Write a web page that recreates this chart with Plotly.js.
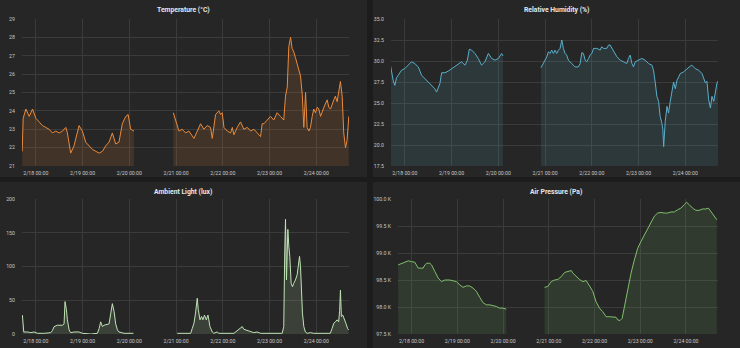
<!DOCTYPE html>
<html><head><meta charset="utf-8">
<script src="https://cdn.plot.ly/plotly-3.0.1.min.js"></script>
<style>html,body{margin:0;padding:0;background:#1c1c1c;overflow:hidden}#chart{width:740px;height:348px}</style>
</head><body><div id="chart"></div>
<script>
// Time is given in hours relative to 2/18 00:00; null value = gap in the data.
const BASE_DATE = '2018-02-18';

const tempHours = [
  -7.0, -6.5, -5.1, -3.4, -1.7, 0, 1.7, 3.4, 5.1, 6.8,
  8.5, 10.3, 12, 13.7, 15.4, 16.2, 17.9, 19.6, 22.2, 23.9,
  25.6, 27.4, 29.1, 30.8, 32.5, 34.2, 35.9, 37.6, 39.3, 41,
  42.7, 44.4, 46.2, 47.4, 48.7, 50.4, 60, 70.6, 71.8, 73.5,
  75.2, 76.9, 78.6, 80.4, 81.2, 82.9, 84.6, 86.3, 88, 89.7,
  90.6, 92.3, 94, 94.9, 95.7, 96.6, 98.3, 100, 100.9, 101.7,
  103.4, 105.1, 106.8, 108.6, 110.3, 112, 113.7, 115.4, 116.2, 117.1,
  118.8, 120.5, 122.2, 123.9, 125.6, 127.3, 128.2, 129.1, 129.9, 130.8,
  131.6, 132.5, 133.3, 134.2, 135, 135.9, 136.8, 137.6, 138.5, 139.3,
  140.2, 141, 141.9, 142.7, 143.6, 144.5, 145.3, 146.2, 147.9, 149.6,
  150.4, 151.3, 153, 153.8, 154.7, 155.5, 156.4, 157.3, 158.1, 159,
  159.8, 160.7
];
const tempValues = [
  21.8, 23.6, 24.1, 23.7, 24.1, 23.6, 23.4, 23.2, 23.1, 23.0,
  22.8, 22.9, 22.8, 22.9, 23.1, 22.8, 21.7, 22.1, 23.2, 22.9,
  22.3, 22.1, 21.9, 21.8, 21.7, 21.8, 22.1, 22.3, 22.8, 22.2,
  22.3, 23.3, 23.7, 23.8, 23.0, 22.9, null, 23.9, 23.5, 22.9,
  23.0, 22.8, 22.9, 22.6, 22.5, 22.9, 23.3, 23.0, 23.2, 23.1,
  22.5, 23.8, 24.0, 23.8, 23.9, 23.1, 22.9, 22.8, 23.1, 22.7,
  23.1, 23.4, 23.0, 23.1, 22.9, 23.0, 22.8, 22.6, 23.3, 23.3,
  23.5, 23.7, 23.5, 23.9, 23.7, 23.5, 24.8, 25.3, 27.5, 28.0,
  27.4, 27.2, 26.9, 26.6, 26.2, 25.9, 24.9, 23.1, 25.0, 23.1,
  22.9, 23.1, 23.7, 24.1, 23.9, 24.2, 24.1, 23.7, 24.2, 24.6,
  24.2, 24.1, 24.6, 24.8, 24.5, 25.0, 25.6, 24.8, 22.8, 22.0,
  22.4, 23.7
];

const humHours = [
  -7.3, -6.0, -5.1, -4.3, -3.4, -1.7, 0, 1.7, 3.4, 5.1,
  6.9, 8.6, 10.3, 12, 13.7, 15.4, 16.3, 18, 18.9, 20.6,
  22.3, 24, 25.7, 27.4, 29.1, 30.9, 32.1, 33.1, 34.3, 36,
  37.7, 39.4, 41.1, 42.9, 44.6, 46.3, 48, 49.7, 50.4, 60,
  69.9, 71.1, 72.9, 73.7, 74.6, 75.4, 76.3, 77.1, 78, 78.9,
  79.7, 80.6, 81.4, 82.3, 83.1, 84, 85.7, 87.4, 89.1, 90,
  90.9, 91.7, 92.6, 93.4, 94.3, 95.1, 96, 96.9, 98.6, 100.3,
  101.1, 102, 103.7, 104.6, 105.4, 106.3, 107.1, 108, 108.9, 110.6,
  112.3, 114, 114.8, 115.7, 116.6, 117.4, 118.3, 120, 121.7, 123.4,
  125.1, 126.9, 127.7, 128.6, 129.4, 130.3, 131.1, 132, 132.5, 132.9,
  133.7, 134.6, 135.4, 136.3, 137.1, 138, 138.9, 139.7, 140.6, 141.4,
  143.1, 144.9, 146.6, 147.4, 149.1, 150.9, 152.6, 154.3, 155.1, 156,
  156.9, 157.7, 158.6, 159.4, 160.3, 161.1
];
const humValues = [
  29.4, 27.7, 27.1, 28.0, 28.3, 28.9, 29.1, 29.5, 29.9, 29.7,
  29.3, 28.3, 27.9, 27.5, 27.0, 26.7, 26.3, 27.3, 28.6, 28.6,
  28.8, 29.1, 29.4, 29.7, 29.9, 29.5, 30.1, 31.4, 31.3, 30.9,
  30.3, 29.5, 29.9, 30.9, 30.3, 30.1, 30.3, 30.9, 30.6, null,
  29.2, 29.7, 30.5, 31.1, 30.9, 31.3, 30.9, 31.3, 30.9, 31.3,
  31.5, 32.5, 31.5, 30.9, 30.7, 30.1, 29.7, 29.3, 29.3, 29.7,
  31.0, 30.9, 30.1, 29.9, 30.3, 30.7, 30.9, 31.5, 31.5, 31.3,
  31.7, 31.5, 31.5, 31.9, 31.9, 31.5, 31.3, 30.9, 30.5, 30.1,
  29.9, 29.7, 30.3, 30.7, 29.7, 29.3, 29.9, 30.1, 30.3, 30.1,
  29.7, 29.5, 28.9, 27.4, 25.8, 25.2, 23.4, 22.6, 21.8, 19.8,
  22.8, 24.6, 23.8, 25.2, 26.6, 27.5, 26.7, 27.7, 28.1, 28.5,
  28.7, 29.1, 29.4, 29.5, 29.1, 28.9, 28.5, 27.4, 27.6, 25.4,
  24.4, 25.8, 25.2, 26.2, 27.4, 27.7
];

const luxHours = [
  -6.9, -6.5, -6.2, -4.3, -2.6, -0.9, 0.9, 4.3, 7.7, 8.5,
  9.4, 11.1, 13.7, 14.5, 15.0, 15.7, 16.2, 17.1, 17.9, 19.7,
  22.2, 23.9, 28.2, 31.6, 32.5, 33.3, 34.2, 35.0, 37.6, 38.5,
  39.3, 40.2, 41.0, 41.9, 42.7, 45.3, 50.1, 60, 72.6, 79.5,
  80.3, 81.2, 82.0, 82.9, 83.4, 84.3, 85.1, 85.8, 86.6, 87.5,
  88.4, 89.4, 90.6, 91.4, 93.1, 94.0, 101.7, 102.5, 104.2, 105.1,
  106.0, 106.8, 108.5, 111.9, 113.6, 115.4, 126.5, 127.3, 127.8, 128.2,
  128.7, 129.4, 129.9, 130.4, 131.1, 131.8, 132.4, 133.3, 134.2, 135.0,
  135.4, 135.9, 136.4, 136.9, 137.6, 138.4, 139.3, 141.0, 142.7, 151.2,
  152.1, 153.0, 153.8, 154.7, 155.5, 156.0, 156.4, 156.9, 157.6, 158.4,
  159.3, 160.1, 160.6
];
const luxValues = [
  28, 10, 3, 3, 2, 3, 1, 1, 2, 5,
  11, 13, 13, 15, 48, 36, 21, 6, 2, 3,
  3, 1, 0, 1, 8, 18, 11, 13, 15, 31,
  45, 33, 15, 6, 3, 1, 1, null, 1, 1,
  8, 16, 31, 53, 36, 21, 26, 21, 28, 21,
  28, 11, 3, 1, 3, 1, 1, 3, 6, 8,
  11, 7, 5, 2, 3, 1, 1, 11, 120, 170,
  80, 155, 130, 115, 75, 70, 75, 80, 88, 110,
  115, 100, 65, 31, 11, 3, 1, 2, 1, 1,
  8, 16, 18, 21, 18, 35, 65, 26, 28, 20,
  15, 8, 6
];

const presHours = [
  -7.0, -5.2, -3.5, -1.7, 0, 1.7, 3.5, 4.4, 6.1, 7.0,
  7.9, 9.6, 10.5, 12.2, 14.0, 15.7, 17.5, 20.1, 21.8, 23.6,
  25.3, 27.0, 28.8, 30.5, 32.3, 34.0, 35.8, 37.5, 39.3, 41.0,
  42.8, 44.5, 46.2, 48.0, 49.7, 60, 69.8, 71.5, 73.3, 75.0,
  76.8, 78.5, 80.3, 82.0, 83.8, 84.6, 86.4, 88.1, 89.9, 91.6,
  93.4, 95.1, 96.8, 98.6, 100.3, 102.1, 103.8, 105.6, 107.3, 108.2,
  109.4, 110.5, 111.7, 113.4, 115.2, 116.9, 118.7, 120.4, 122.2, 123.9,
  125.6, 127.4, 129.1, 130.9, 132.6, 134.4, 136.1, 137.9, 139.6, 141.3,
  143.1, 144.3, 145.7, 147.5, 149.2, 150.9, 152.7, 154.4, 155.8, 157.1,
  158.8, 160.2
];
const presValues = [
  98780, 98810, 98840, 98855, 98840, 98830, 98720, 98720, 98720, 98780,
  98810, 98810, 98780, 98660, 98535, 98470, 98500, 98500, 98490, 98470,
  98410, 98365, 98390, 98390, 98350, 98290, 98180, 98080, 98040, 98040,
  98025, 98010, 97980, 97980, 97960, null, 98365, 98380, 98470, 98500,
  98510, 98560, 98640, 98660, 98675, 98630, 98560, 98510, 98470, 98490,
  98390, 98290, 98100, 97980, 97915, 97820, 97820, 97820, 97810, 97760,
  97750, 97790, 98010, 98320, 98630, 98870, 99090, 99215, 99340, 99460,
  99585, 99680, 99740, 99750, 99740, 99740, 99760, 99760, 99800, 99830,
  99895, 99940, 99895, 99830, 99790, 99790, 99815, 99815, 99830, 99770,
  99690, 99615
];

const panelTitles = ['Temperature (°C)', 'Relative Humidity (%)', 'Ambient Light (lux)', 'Air Pressure (Pa)'];
const presTickVals = [97500, 98000, 98500, 99000, 99500, 100000];
const presTickText = ['97.5 K', '98.0 K', '98.5 K', '99.0 K', '99.5 K', '100.0 K'];
const timeRangeHours = [-7.1, 160.8];

// ---------- rendering ----------
const W = 740, H = 348;
const base = Date.parse(BASE_DATE + 'T00:00:00Z');
const toMs = hrs => hrs.map(h => base + h * 3600000);
const px = v => v / W, py = v => (H - v) / H;

const FONT = 'Roboto, "Open Sans", sans-serif';
const tickFont = {family: FONT, size: 5.2, color: '#c9c9c9'};
const GRID = '#3b3b3b';

function xAxis(x0, x1, anchor) {
  return {
    domain: [px(x0), px(x1)], anchor: anchor, type: 'date',
    range: toMs(timeRangeHours), tick0: base, dtick: 86400000,
    tickformat: '%-m/%d %H:%M', showgrid: true, gridcolor: GRID, gridwidth: 1,
    zeroline: false, showline: false, ticks: 'outside', ticklen: 2,
    tickcolor: 'rgba(0,0,0,0)', tickfont: tickFont, fixedrange: true
  };
}
function yAxis(y0, y1, anchor, extra) {
  return Object.assign({
    domain: [py(y1), py(y0)], anchor: anchor, showgrid: true, gridcolor: GRID,
    gridwidth: 1, zeroline: false, showline: false, ticks: 'outside', ticklen: 5,
    tickcolor: 'rgba(0,0,0,0)', tickfont: tickFont, fixedrange: true
  }, extra);
}

// split a series at null values so each recorded segment gets its own fill
function segments(hours, values) {
  const out = [];
  let cur = {h: [], v: []};
  hours.forEach((h, i) => {
    if (values[i] === null) { if (cur.h.length) out.push(cur); cur = {h: [], v: []}; }
    else { cur.h.push(h); cur.v.push(values[i]); }
  });
  if (cur.h.length) out.push(cur);
  return out;
}
function series(hours, values, color, fill, xa, ya) {
  return segments(hours, values).map(s => ({
    x: toMs(s.h), y: s.v, type: 'scatter', mode: 'lines',
    line: {color: color, width: 1}, fill: 'tozeroy', fillcolor: fill,
    xaxis: xa, yaxis: ya, hoverinfo: 'skip'
  }));
}

const data = [].concat(
  series(tempHours, tempValues, '#EA8A3A', 'rgba(234,138,58,0.14)', 'x', 'y'),
  series(humHours, humValues, '#5AAFCB', 'rgba(90,175,203,0.13)', 'x2', 'y2'),
  series(luxHours, luxValues, '#BFE3B4', 'rgba(191,227,180,0.14)', 'x3', 'y3'),
  series(presHours, presValues, '#7FBF6A', 'rgba(127,191,106,0.13)', 'x4', 'y4')
);

const panels = [[0, 0, 367, 177], [373, 0, 740, 177], [0, 182, 367, 348], [373, 182, 740, 348]];
const shapes = panels.map(p => ({
  type: 'rect', xref: 'paper', yref: 'paper', layer: 'below',
  x0: px(p[0]), x1: px(p[2]), y0: py(p[3]), y1: py(p[1]),
  line: {width: 0}, fillcolor: '#262626'
}));
const annotations = panels.map((p, i) => ({
  xref: 'paper', yref: 'paper', x: px((p[0] + p[2]) / 2), y: py(p[1] + 10.5),
  xanchor: 'center', yanchor: 'middle', showarrow: false, text: panelTitles[i],
  font: {family: FONT, size: 6.8, color: '#e6e6e6', weight: 'bold'}
}));

const layout = {
  width: W, height: H, margin: {l: 0, r: 0, t: 0, b: 0},
  paper_bgcolor: '#1c1c1c', plot_bgcolor: 'rgba(0,0,0,0)', showlegend: false,
  xaxis: xAxis(22, 349, 'y'),
  yaxis: yAxis(19, 166, 'x', {range: [21, 29], dtick: 1, tick0: 21}),
  xaxis2: xAxis(391, 718, 'y2'),
  yaxis2: yAxis(19, 166, 'x2', {range: [17.5, 35], dtick: 2.5, tick0: 17.5, tickformat: '.1f'}),
  xaxis3: xAxis(22, 349, 'y3'),
  yaxis3: yAxis(199, 334, 'x3', {range: [0, 200], dtick: 50, tick0: 0}),
  xaxis4: xAxis(398, 718, 'y4'),
  yaxis4: yAxis(199, 334, 'x4', {range: [97500, 100000], tickmode: 'array', tickvals: presTickVals, ticktext: presTickText}),
  shapes: shapes, annotations: annotations
};

Plotly.newPlot('chart', data, layout, {displayModeBar: false, staticPlot: true});
</script></body></html>
